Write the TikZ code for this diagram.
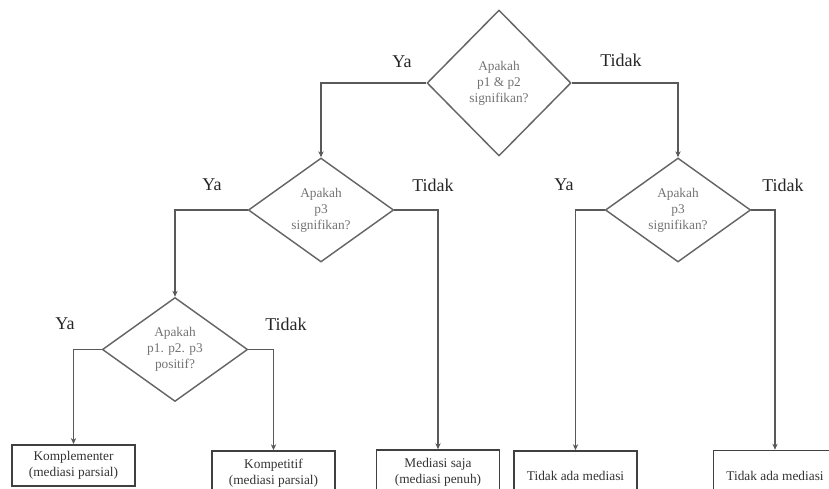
\documentclass[tikz,border=0pt]{standalone}
\usepackage{fontspec}
\setmainfont{Liberation Serif}
\usetikzlibrary{shapes.geometric,arrows.meta}
\begin{document}
\begin{tikzpicture}[x=0.75pt,y=-0.75pt,
  dec/.style={diamond, draw=black!60, line width=1.1pt, inner sep=0pt, aspect=1.4, align=center, font=\fontsize{10}{12}\selectfont, text=black!55, minimum width=109pt, minimum height=78pt},
  res/.style={rectangle, draw=black!75, line width=1.2pt, inner sep=0pt, minimum width=92.5pt, minimum height=31pt, align=center, font=\fontsize{10}{12}\selectfont, text=black!80},
  tallres/.style={res, minimum height=33pt},
  lbl/.style={inner sep=0pt, font=\fontsize{13.5}{16}\selectfont, text=black!85},
  conn/.style={draw=black!65, line width=1.1pt, -{Stealth[length=4.5pt,width=4pt]}}]
\useasboundingbox (0,0) rectangle (829,489);
\clip (0,0) rectangle (829,489);
% decisions
\node[dec, minimum width=108pt, minimum height=109.5pt] (d1) at (499,83) {Apakah\\p1 \& p2\\signifikan?};
\node[dec] (d2) at (321,210) {Apakah\\p3\\signifikan?};
\node[dec] (d3) at (175,349.5) {Apakah\\p1. p2. p3\\positif?};
\node[dec] (d4) at (678,210) {Apakah\\p3\\signifikan?};
% results
\node[res] (b1) at (73.5,465.5) {Komplementer\\(mediasi parsial)};
\node[tallres] (b2) at (273.5,473) {Kompetitif\\(mediasi parsial)};
\node[tallres] (b3) at (438,472) {Mediasi saja\\(mediasi penuh)};
\node[tallres] (b4) at (575.5,473) {\mbox{}\\Tidak ada mediasi};
\node[tallres] (b5) at (775,472.5) {\mbox{}\\Tidak ada mediasi};
% connectors
\draw[conn] (d1.west) -| (d2.north);
\draw[conn] (d1.east) -| (d4.north);
\draw[conn] (d2.west) -| (d3.north);
\draw[conn] (d2.east) -| (b3.north);
\draw[conn] (d3.west) -| (b1.north);
\draw[conn] (d3.east) -| (b2.north);
\draw[conn] (d4.west) -| (b4.north);
\draw[conn] (d4.east) -| (b5.north);
% labels
\node[lbl] (l1) at (402,62) {Ya};
\node[lbl] (l2) at (621,60) {Tidak};
\node[lbl] (l3) at (212,185) {Ya};
\node[lbl] (l4) at (433,185) {Tidak};
\node[lbl] (l5) at (65,324) {Ya};
\node[lbl] (l6) at (286,324) {Tidak};
\node[lbl] (l7) at (564,185) {Ya};
\node[lbl] (l8) at (783,185) {Tidak};
\end{tikzpicture}
\end{document}
